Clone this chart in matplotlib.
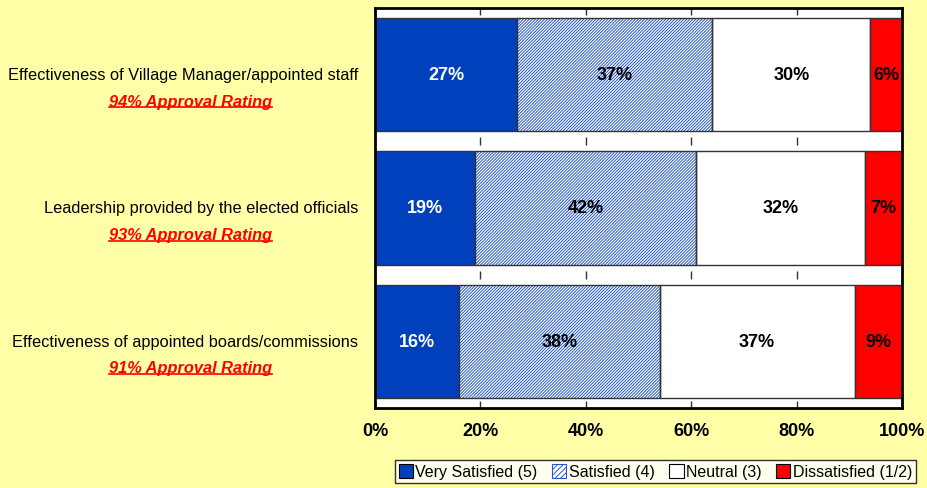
import matplotlib.pyplot as plt
from matplotlib.patches import Patch
from matplotlib.lines import Line2D

plt.rcParams['font.family'] = ['Liberation Sans', 'DejaVu Sans']
plt.rcParams['hatch.linewidth'] = 0.7

categories = [
    "Effectiveness of Village Manager/appointed staff",
    "Leadership provided by the elected officials",
    "Effectiveness of appointed boards/commissions",
]
approval = ["94% Approval Rating", "93% Approval Rating", "91% Approval Rating"]
series = ["Very Satisfied (5)", "Satisfied (4)", "Neutral (3)", "Dissatisfied (1/2)"]
very_satisfied = [27, 19, 16]
satisfied = [37, 42, 38]
neutral = [30, 32, 37]
dissatisfied = [6, 7, 9]
x_ticks = [0, 20, 40, 60, 80, 100]

bg = "#FFFFA8"
blue = "#0040BC"
hatch_blue = "#2458C8"
red = "#FF0000"
hatch = "/" * 11

fig = plt.figure(figsize=(9.27, 4.89), dpi=100, facecolor=bg)
ax = fig.add_axes([0.4045, 0.1636, 0.5685, 0.818])
ax.set_facecolor("white")

y = list(range(len(categories)))
h = 0.85
values = [very_satisfied, satisfied, neutral, dissatisfied]
left = [0] * len(categories)
for i, vals in enumerate(values):
    if i == 0:
        ax.barh(y, vals, h, left=left, color=blue, edgecolor="#333333", linewidth=1, zorder=2)
    elif i == 1:
        ax.barh(y, vals, h, left=left, color="white", edgecolor=hatch_blue, linewidth=0,
                hatch=hatch, zorder=2)
        ax.barh(y, vals, h, left=left, fill=False, edgecolor="#333333", linewidth=1, zorder=3)
    elif i == 2:
        ax.barh(y, vals, h, left=left, color="white", edgecolor="#333333", linewidth=1, zorder=2)
    else:
        ax.barh(y, vals, h, left=left, color=red, edgecolor="#333333", linewidth=1, zorder=2)
    for j, v in enumerate(vals):
        ax.text(left[j] + v / 2, y[j], f"{v}%", ha="center", va="center",
                fontsize=13, fontweight="bold",
                color="white" if i == 0 else "black", zorder=5)
    left = [a + b for a, b in zip(left, vals)]

# little marks in the gaps between bars
for gy in [0.5, 1.5]:
    ax.plot(x_ticks[1:-1], [gy] * 4, ls="none", marker="|", ms=6, mew=1, color="#333333", zorder=1)

ax.set_xlim(0, 100)
ax.set_ylim(2.5, -0.5)
ax.set_xticks(x_ticks)
ax.set_xticklabels([f"{t}%" for t in x_ticks], fontsize=13, fontweight="bold")
ax.tick_params(axis="x", direction="in", top=True, bottom=True, length=5, width=1,
               color="#333333", pad=10)
ax.set_yticks([])
for s in ax.spines.values():
    s.set_linewidth(2)
    s.set_color("black")

# category labels and red approval ratings
red_texts = []
for j, cat in enumerate(categories):
    ax.text(-0.032, y[j], cat, transform=ax.get_yaxis_transform(), ha="right", va="center",
            fontsize=11.8, color="black")
    t = ax.text(-0.35, y[j] + 0.2, approval[j], transform=ax.get_yaxis_transform(),
                ha="center", va="center", fontsize=11.8, fontweight="bold",
                fontstyle="italic", color=red)
    red_texts.append(t)

fig.canvas.draw()
r = fig.canvas.get_renderer()
for t in red_texts:
    bb = t.get_window_extent(r).transformed(fig.transFigure.inverted())
    fig.add_artist(Line2D([bb.x0, bb.x1], [bb.y0 + 0.003, bb.y0 + 0.003],
                          transform=fig.transFigure, color=red, lw=1.2))

handles = [
    Patch(facecolor=blue, edgecolor="black", linewidth=0.8),
    Patch(facecolor="white", edgecolor=hatch_blue, hatch="//////", linewidth=0.8),
    Patch(facecolor="white", edgecolor="black", linewidth=0.8),
    Patch(facecolor=red, edgecolor="black", linewidth=0.8),
]
leg = fig.legend(handles, series, loc="center", bbox_to_anchor=(0.707, 0.033), ncol=4,
                 fontsize=11.5, frameon=True, fancybox=False, edgecolor="black",
                 handlelength=0.9, handleheight=0.9, handletextpad=0.15,
                 columnspacing=0.9, borderpad=0.25, borderaxespad=0)
leg.get_frame().set_linewidth(1)

fig.savefig("out.png", dpi=100, facecolor=bg)
